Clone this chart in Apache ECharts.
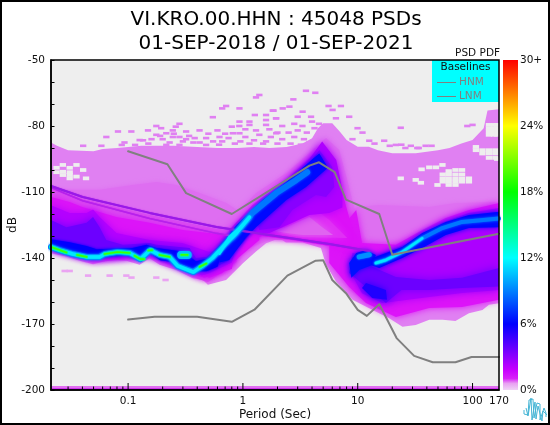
<!DOCTYPE html>
<html><head><meta charset="utf-8">
<style>html,body{margin:0;padding:0;background:#fff}#c{width:550px;height:425px}</style>
<script src="https://cdn.jsdelivr.net/npm/echarts@6/dist/echarts.min.js"></script>
</head><body><div id="c"></div>
<script>
// ---------- values: [period (s), dB] ----------
const titleLines = ['VI.KRO.00.HHN : 45048 PSDs', '01-SEP-2018 / 01-SEP-2021'];
const xMajorTicks = [0.1, 1, 10, 100, 170];
const xMinorTicks = [0.03,0.04,0.05,0.06,0.07,0.08,0.09,0.2,0.3,0.4,0.5,0.6,0.7,0.8,0.9,2,3,4,5,6,7,8,9,20,30,40,50,60,70,80,90];
const hnm = [[0.1,-91.5],[0.22,-97.4],[0.32,-110.5],[0.8,-120],[3.8,-98],[4.6,-96.5],[6.3,-101],[7.9,-113.5],[15.4,-120],[20,-138.5],[170,-129]];
const lnm = [[0.1,-168],[0.17,-166.7],[0.4,-166.7],[0.8,-169],[1.26,-163.5],[2.44,-148],[4.3,-141.2],[5,-141],[6,-150],[7.9,-156],[10,-163.6],[12,-166.3],[15.4,-161],[21.8,-176.4],[31,-184.5],[45,-187.4],[71,-187.4],[98,-185],[170,-185]];

const envelope = [[.0213,-87.5],[.024,-89],[.03,-91],[.05,-91.5],[.06,-90.5],[.08,-90],[.1,-89.5],[.13,-89],[.16,-89],[.25,-89],[.4,-89.5],[.6,-90],[.9,-90],[1.25,-89.5],[1.7,-90],[2.4,-89.5],[3.3,-88],[4,-85.6],[4.5,-81],[5,-78.8],[6,-78.8],[7,-82.6],[8,-86.4],[10,-89.4],[12.5,-89.4],[15,-91],[20,-92.4],[32,-92.4],[40,-91.7],[50,-91],[63,-90],[80,-88],[100,-86.4],[125,-81],[135,-73],[170,-72.4],
 [170,-160.6],[139,-161.3],[122,-163.6],[93,-165.1],[71,-168.6],[55,-168.1],[42,-168.1],[32,-170.4],[24.5,-171.2],[18.8,-167.4],[12.6,-162.8],[9,-159],[6.46,-150.7],[5.29,-143],[4.78,-135.5],[3.31,-133],[2.37,-133],[2.08,-131],[1.59,-133.3],[1.3,-137],[1,-142.4],[.817,-146.9],[.714,-150],[.495,-152.2],[.448,-150],[.366,-149.2],[.263,-145.4],[.188,-143.1],[.154,-140.1],[.126,-143.1],[.0965,-141.3],[.069,-140.9],[.0495,-142.8],[.0379,-141.3],[.029,-139.3],[.0213,-137.8]];
const cloudLeft = [[.0213,-109],[.0565,-109],[.109,-106.8],[.177,-105.5],[.264,-106.8],[.419,-110.5],[.719,-115],[.933,-119],[.84,-128],[.0213,-111]];
const cloudRight = [[9.9,-116.8],[15.4,-115.9],[41.9,-116.8],[72,-115],[170,-114.5],[170,-157.3],[41.9,-161.4],[23,-164.5],[15.4,-163.6],[8.43,-154.5],[6,-136.4],[7.6,-120.5]];
const humpPale = [[.625,-126.4],[.88,-119.5],[1.3,-110.5],[2.39,-101.4],[3.79,-92.3],[5.3,-85.5],[6.9,-90.9],[8.1,-104.5],[10.3,-126],[11.9,-131.8],[7.6,-136.4],[4.8,-131.8],[1.7,-131.8],[1.03,-136.4],[.81,-141.8]];
const lobeA = [[.0213,-108.5],[.0402,-113.2],[.154,-120.5],[.588,-126.8],[.933,-128.2],[.88,-141.8],[.495,-151],[.366,-148.5],[.263,-144.5],[.154,-139.5],[.0965,-140.5],[.0495,-142],[.0213,-137]];
const lobeB = [[.0213,-112.3],[.031,-114.5],[.04,-116.8],[.079,-121.4],[.154,-124],[.298,-127.3],[.72,-129.5],[.88,-135],[.8,-145],[.46,-149],[.36,-147],[.26,-144],[.154,-139],[.0965,-140],[.0495,-141],[.0213,-136]];
const lobeC = [[.0213,-116],[.031,-119.5],[.0435,-119.5],[.0495,-118],[.0565,-121.4],[.079,-128.6],[.154,-131.8],[.298,-133.2],[.512,-137.3],[.72,-135],[.933,-130.5],[.8,-142],[.5,-147],[.44,-148],[.36,-146],[.26,-143],[.154,-138.5],[.0965,-139.5],[.0495,-140.5],[.0213,-135.5]];
const lobeD = [[.0213,-122.7],[.029,-126],[.0435,-124],[.0495,-121.4],[.0565,-126],[.0645,-131.8],[.09,-134],[.154,-133.2],[.177,-134],[.343,-135.5],[.39,-140],[.48,-139.5],[.66,-133.2],[.88,-127.3],[.75,-141],[.5,-146],[.37,-145.5],[.26,-142.5],[.154,-138],[.0965,-139],[.0495,-140],[.0213,-135]];
const lobeE = [[.0213,-131.5],[.031,-132.8],[.0435,-134.5],[.0533,-136],[.069,-135.8],[.109,-135.5],[.145,-134],[.177,-135.5],[.3,-137],[.39,-141.5],[.512,-140],[.72,-131.5],[.6,-144],[.48,-146],[.38,-146],[.26,-142],[.19,-141],[.154,-137.5],[.126,-141],[.0965,-138.5],[.0495,-140],[.0213,-134.5]];
const fanMagenta = [[.45,-142],[.72,-131],[.9,-128],[1.39,-127],[1.39,-131.8],[.93,-139.5],[.66,-146.8],[.51,-149],[.43,-147]];
const fanViolet = [[.45,-143],[.6,-137],[.9,-127],[1.2,-125],[1.2,-128],[1,-133],[.7,-141.5],[.5,-146]];
const humpMagenta = [[.76,-127.3],[1.21,-115.9],[2.39,-104.5],[3.79,-94.5],[4.9,-89.5],[6.25,-96.8],[7.35,-110.5],[8.9,-126],[10.3,-133.2],[11.9,-137.7],[7.6,-138],[5.65,-134.5],[3.1,-132.3],[1.48,-130],[1.14,-131.8],[.84,-137.3]];
const humpMid = [[1.39,-127.3],[2.39,-121.4],[3.79,-115.9],[5.65,-122.7],[8.1,-130.9],[3.3,-130.5]];
const humpLight = [[1.7,-127.3],[2.39,-126],[3.79,-121.4],[4.9,-126],[6.1,-129.5],[3.3,-129.5],[2.39,-128.6]];
const humpPurple = [[4.9,-87],[6.5,-95.5],[7.35,-109],[7.35,-117],[5.65,-119.5],[3.79,-120.5],[2.7,-124],[1.7,-128.6],[1.21,-128.6],[1.3,-122],[2.39,-106],[3.79,-95]];
const humpViolet = [[4.63,-90.9],[6,-98.6],[6.25,-107.7],[5.3,-112.3],[4.33,-111.4],[2.7,-118.2],[2.08,-126],[1.39,-127.3],[1.3,-122],[2.39,-108],[3.79,-97]];
const risingBlue = [[.625,-135],[.88,-125],[1.48,-113.6],[2.39,-105.5],[4.05,-95],[4.63,-92.5],[5.5,-99],[3.55,-107.7],[2.39,-113.6],[1.3,-126],[1.07,-130.5],[.76,-140.9],[.625,-142]];
const rightMagenta = [[9.7,-118.2],[10.9,-133.2],[21.5,-134],[36.6,-127.3],[58.5,-121.8],[93.2,-118.2],[170,-115],[170,-159],[81,-162.3],[41.9,-162.7],[21.5,-166.8],[11.8,-160.5],[8.43,-153.2],[5.65,-142.3],[5.65,-133]];
const rightPurple = [[13.4,-139.5],[29.7,-132.7],[54.5,-124],[93,-119.5],[170,-117.3],[170,-154.5],[81,-155.9],[41.9,-157.7],[26.3,-159.1],[16.4,-160.5],[10.9,-156],[8.43,-145.5],[9,-137.7]];
const rightViolet = [[13.4,-144],[21.5,-148.6],[41.9,-150],[81,-149],[170,-144.5],[170,-153],[81,-153.6],[41.9,-154.5],[24,-154.5],[17.6,-160.5],[11.8,-153.2],[8.43,-146.8],[9,-139.5]];
const rightPatch = [[11.8,-151.4],[17.6,-154.5],[18,-159],[13.4,-158.2],[10.9,-153.6]];
const rightBlob = [[8.43,-142.3],[9.7,-137.7],[11.8,-136.4],[14.4,-138.6],[13.4,-143.2],[10.3,-145.5],[8.8,-149]];
const rightBlue = [[13.4,-140],[24.4,-135],[36.5,-128.6],[58.5,-123.6],[93,-120.5],[170,-119],[170,-126],[93,-126.4],[58.5,-129.5],[36.5,-135.5],[24.4,-140],[15.4,-144.5],[13,-143.2]];
const bottomBandOuter = [[.0213,-198.2],[170,-198.2],[170,-200],[.0213,-200]];
const bottomBandInner = [[.0213,-199.2],[170,-199.2],[170,-200],[.0213,-200]];

const diagonalUpper = [[.0213,-107.3],[.0402,-112.3],[.154,-119.5],[.588,-125.9],[1.48,-129.1],[5.65,-133.6],[12.6,-136.8]];
const diagonalLower = [[.0213,-108],[.0402,-114],[.154,-122],[.588,-128.8],[.8,-130]];
const ridgeLeft = [[.0213,-135],[.0253,-136.4],[.033,-138.2],[.0435,-139.5],[.0565,-139.5],[.0625,-138.2],[.081,-137.3],[.103,-137.7],[.128,-140.5],[.156,-136.4],[.188,-138.6],[.23,-139.5],[.27,-143.6],[.37,-146.4],[.445,-143.6],[.543,-140],[.72,-133.2],[.88,-128.6],[1.14,-121.4]];
const ridgeRising = [[.81,-130.5],[1.21,-119.5],[1.95,-110.5],[2.92,-104.5],[3.63,-101]];
const ridgeRisingCyan = [[.625,-138],[.76,-130.5],[.93,-126.4],[1.1,-122.5]];
const ridgeRight = [[14.4,-142.3],[17.6,-140.9],[24.4,-137.3],[36.5,-131],[54.5,-126.4],[81,-123.6],[170,-122]];
const ridgeRightCyan = [[14.4,-142.3],[17.6,-140.9],[24.4,-137.3],[36.5,-131]];
const ridgeBlob = [[10.3,-139.5],[12.6,-138.5]];
const leftBlob = [[.29,-138.6],[.33,-138.6]];
const greenSegments = [
 [[.0213,-135],[.0253,-136.4],[.029,-137.5]],
 [[.036,-138.6],[.0435,-139.5]],
 [[.0625,-138.2],[.081,-137.3],[.103,-137.7]],
 [[.114,-139],[.128,-140.5],[.138,-140.5]],
 [[.15,-136.6],[.162,-136.4]],
 [[.188,-138.6],[.23,-139.5]],
 [[.29,-138.6],[.33,-138.6]],
 [[.42,-144],[.48,-142.5]]
];
const speckles = [[1.39,-65.9],[1.3,-67],[.714,-70.9],[.66,-72],[.933,-72],[1.27,-75],[1.59,-75],[1.85,-73],[.547,-76],[.28,-79],[.26,-80.3],[.176,-80],[.933,-78],[1.14,-78],[1.59,-77.3],[1.95,-76.5],
[.0816,-82.5],[.1067,-82.5],[.0646,-85],[.149,-82],[.194,-81],[.215,-83.3],[.245,-82],[.32,-82.5],[.419,-82],[.6,-82],[.8,-80.3],[.93,-80],[1.14,-79.5],[1.59,-79.5],
[.0406,-89],[.0585,-89],[.093,-87.5],[.088,-88.6],[.126,-86.4],[.176,-84],[.245,-85],[.32,-86],[.478,-85.5],[.625,-85],[.817,-83.3],[.933,-83.3],[1.39,-84],[1.95,-83.3],
[.115,-88.6],[.15,-88],[.215,-88.6],[.28,-88.6],[.37,-87.5],[.478,-88.6],[.66,-87],[.85,-88],[1.14,-88],[1.59,-87],
[.135,-86.5],[.16,-86],[.2,-86],[.28,-85],[.38,-85.5],[.55,-87],[.75,-85.5],[1.05,-85],[1.25,-86.5],[1.75,-85],[.3,-87],[.42,-87.5],[.95,-87],
[.19,-84.5],[.23,-87.5],[.34,-84.5],[.5,-83.5],[.7,-83.5],[1.05,-81.5],[1.3,-82],[1.7,-81.5],[.25,-83.5],[.62,-88.5],[1.5,-88],
[3.54,-64],[4.27,-64.9],[2.75,-67.9],[2.54,-71.2],[2.22,-72],[1.82,-73],[3.31,-73.5],[5.57,-70.9],[7.14,-70.9],[6.04,-72.7],[8.43,-75.8],[3.92,-75.8],[3,-75.8],[6.46,-76.5],[1.94,-76.5],[9.96,-81],[11,-83],[23.7,-80.8],[12.6,-86.7],[17,-86.7],
[2.2,-80],[2.8,-79],[3.3,-80],[4,-78],[4.6,-79],[2,-83],[2.5,-83],[3,-82],[3.6,-83],[4.2,-81],[2.2,-86],[2.8,-85],[3.4,-86],[2,-88],[2.6,-88],[3.2,-88.5],[3.8,-87.5],[9,-86],[14,-88],[19,-89],[24,-88.5],[29,-89],[34,-90],[39,-89],[44,-89],[21.5,-88.6],[26,-90],[33,-90],[90,-80],[100,-79.5]];
const lowSpeckles = [[.028,-145.9],[.031,-145.9],[.0448,-148],[.069,-148],[.0965,-148],[.107,-148.9],[.176,-148.9],[.212,-150]];
const holes = [[.0238,-99],[.027,-97.7],[.031,-99],[.0355,-97.7],[.0238,-101],[.027,-100.8],[.031,-101],[.027,-102.3],[.031,-102.3],[.031,-103.8],[.0355,-103],[.0406,-100],[.043,-103.8],
[42,-98.8],[48,-98.8],[54.7,-97.7],[36,-99.7],[23.7,-103.8],[32,-104.5],[35.5,-105.8],[49.5,-106.8],
[55,-102],[62,-102],[71,-102],[81,-102],[62,-100.5],[71,-100],[55,-103.8],[62,-103.8],[71,-103.8],[81,-103.8],[93,-103.8],[55,-105.3],[62,-105.3],[71,-105.3],[81,-105.3],[93,-105.3],[62,-106.8],[71,-106.8],[81,-100],
[139,-79.5],[154,-79.5],[164,-79.5],[139,-81],[154,-81],[164,-81],[139,-82.5],[154,-82.5],[164,-82.5],[139,-84],[154,-84],[164,-84],
[107,-91],[122,-91],[139,-91],[158,-91],[122,-92.5],[139,-92.5],[158,-92.5],[139,-94.5],[158,-94.5],[164,-95],[107,-89.5]];

// ---------- presentation ----------
const PALE='#e080f2', BG='#eeeeee';
const bands = [
 [envelope,PALE,0],[cloudLeft,'#de6ef1',5],[cloudRight,'#de70f1',5],[humpPale,'#dd6af1',6],
 [lobeA,'#d94cf0',5],[rightMagenta,'#dc14f8',7],[humpMagenta,'#dc10f8',6],[humpMid,'#e030f5',7],[humpLight,'#e064f0',7],
 [lobeB,'#dc14f8',7],[fanMagenta,'#dc10f8',5],[lobeC,'#b400ff',9],[humpPurple,'#b000ff',9],[rightPurple,'#ac00ff',9],[humpViolet,'#8800ff',9],
 [rightViolet,'#6c00ff',10],[lobeD,'#6c00ff',9],[fanViolet,'#6000ff',4],[lobeE,'#0000ff',3],[risingBlue,'#0008ff',4],[rightPatch,'#2000ff',7],
 [rightBlob,'#0010ff',5],[rightBlue,'#0008ff',5],[bottomBandOuter,'#e070f0',0],[bottomBandInner,'#cc20f0',0]
];
function bandSeries(pts,color,blur){
 return {type:'custom',coordinateSystem:'cartesian2d',clip:true,silent:true,data:pts,encode:{x:0,y:1},
  renderItem:(p,api)=>{ if(p.dataIndex!==0) return null;
   return {type:'polygon',shape:{points:pts.map(d=>api.coord(d))},style:{fill:color,shadowBlur:blur,shadowColor:color}}; }};
}
function cellSeries(cells,color,halfDb){
 const half=Math.pow(10,0.0275);
 return {type:'custom',coordinateSystem:'cartesian2d',clip:true,silent:true,data:cells,encode:{x:0,y:1},
  renderItem:(p,api)=>{ const a=api.coord([api.value(0)/half,api.value(1)+halfDb]), b=api.coord([api.value(0)*half,api.value(1)-halfDb]);
   return {type:'rect',shape:{x:a[0],y:a[1],width:b[0]-a[0],height:b[1]-a[1]},style:{fill:color}}; }};
}
function tickSeries(values,len){
 return {type:'custom',coordinateSystem:'cartesian2d',clip:false,silent:true,z:9,data:values.map(v=>[v,-200]),encode:{x:0,y:1},
  renderItem:(p,api)=>{ const c=api.coord([api.value(0),-200]);
   return {type:'line',shape:{x1:c[0],y1:c[1],x2:c[0],y2:c[1]-len},style:{stroke:'#000',lineWidth:1}}; }};
}
function lineSeries(pts,color,width,blur,name){
 return {type:'line',name:name,data:pts,showSymbol:false,symbol:'none',silent:true,
  lineStyle:{color:color,width:width,cap:'round',join:'round',shadowBlur:blur||0,shadowColor:color}};
}
const series=[];
series.push(cellSeries(speckles,PALE,.6));
bands.forEach(b=>series.push(bandSeries(b[0],b[1],b[2])));
series.push(cellSeries(holes,BG,.85));
series.push(cellSeries(lowSpeckles,'#eaa4f2',.6));
series.push(lineSeries(diagonalLower,'#b820ec',1.5,1));
series.push(lineSeries(diagonalUpper,'#9a18e8',2,1));
[ridgeLeft,ridgeRising,ridgeRight].forEach((r,i)=>series.push(lineSeries(r,'#0078ff',i===2?4:6,3)));
series.push(lineSeries(ridgeBlob,'#0090ff',5,2));
series.push(lineSeries(leftBlob,'#00c0ff',8,2));
[ridgeLeft,ridgeRisingCyan,ridgeRightCyan].forEach((r,i)=>series.push(lineSeries(r,'#00e8ff',i===0?3.5:2.5,2)));
greenSegments.forEach(s=>series.push(lineSeries(s,'#00ff90',3,1)));
greenSegments.forEach(s=>series.push(lineSeries(s,'#40ff00',1.6,0)));
series.push(lineSeries(hnm,'#808080',2,0,'HNM'));
series.push(lineSeries(lnm,'#808080',2,0,'LNM'));
series.push(tickSeries(xMinorTicks,3.5));
series.push(tickSeries(xMajorTicks.slice(0,4),7));
series.push({type:'bar',xAxisIndex:1,yAxisIndex:1,data:[30],barWidth:'100%',silent:true,
 itemStyle:{color:new echarts.graphic.LinearGradient(0,1,0,0,[
  {offset:0,color:'#f0d4f6'},{offset:.02,color:'#e8a0f2'},{offset:.035,color:'#d820f8'},{offset:.06,color:'#c800ff'},
  {offset:.2,color:'#0000ff'},{offset:.4,color:'#00ffff'},{offset:.6,color:'#00ff00'},{offset:.8,color:'#ffff00'},{offset:1,color:'#ff0000'}])}});

const FONT='"DejaVu Sans"';
const base={fontFamily:FONT,color:'#111',fontSize:10.5};
const logoStroke={stroke:'#45b5d5',lineWidth:1,fill:'none'};
const chart=echarts.init(document.getElementById('c'),null,{renderer:'canvas'});
chart.setOption({
 animation:false,backgroundColor:'#fff',textStyle:{fontFamily:FONT},
 title:{text:titleLines.join('\n'),left:271,textAlign:'center',top:3,textStyle:{fontFamily:FONT,fontWeight:'normal',fontSize:20,lineHeight:24,color:'#000'}},
 legend:{data:['HNM','LNM'],orient:'vertical',left:437,top:77,icon:'rect',itemWidth:19,itemHeight:1,itemGap:3,padding:0,selectedMode:false,
  itemStyle:{color:'#808080'},textStyle:{fontFamily:FONT,fontSize:10.5,color:'#808080',padding:[0,0,0,-2]}},
 grid:[{left:51,top:60,width:448,height:330,show:true,backgroundColor:BG,borderWidth:0,outerBoundsMode:'none'},
       {left:503,top:60,width:15,height:330,outerBoundsMode:'none'}],
 xAxis:[
  {type:'log',gridIndex:0,min:.0213,max:170,z:10,axisLine:{show:true,onZero:false,lineStyle:{color:'#000',width:1.5}},
   axisTick:{show:false},minorTick:{show:false},splitLine:{show:false},
   axisLabel:{...base,customValues:xMajorTicks,margin:6,formatter:v=>String(+(+v).toPrecision(3)),showMinLabel:true,showMaxLabel:true,hideOverlap:false},
   name:'Period (Sec)',nameLocation:'middle',nameGap:19,nameMoveOverlap:false,nameTextStyle:{...base,fontSize:12}},
  {type:'category',gridIndex:1,data:['PDF'],show:false}
 ],
 yAxis:[
  {type:'value',gridIndex:0,min:-200,max:-50,interval:30,z:10,axisLine:{show:true,onZero:false,lineStyle:{color:'#000',width:1.5}},
   axisTick:{show:true,inside:true,length:3.5,lineStyle:{color:'#000'}},minorTick:{show:true,splitNumber:3,length:3.5,lineStyle:{color:'#000'}},splitLine:{show:false},
   axisLabel:{...base,margin:6},name:'dB',nameLocation:'middle',nameGap:32,nameMoveOverlap:false,nameTextStyle:{...base,fontSize:12}},
  {type:'value',gridIndex:1,min:0,max:30,interval:6,position:'right',axisLine:{show:false},axisTick:{show:false},splitLine:{show:false},
   axisLabel:{...base,margin:2,formatter:v=>v===30?'30+':v+'%',alignMinLabel:'bottom',alignMaxLabel:'top'}}
 ],
 graphic:[
  {type:'rect',z:1,silent:true,shape:{x:432,y:60,width:67,height:42},style:{fill:'#00ffff'},id:'legendBg'},
  {type:'text',z:60,silent:true,x:465.5,y:62,style:{text:'Baselines',font:'10.5px '+FONT,fill:'#111',textAlign:'center'}},
  {type:'text',z:60,silent:true,x:500,y:48,style:{text:'PSD PDF',font:'10.5px '+FONT,fill:'#111',textAlign:'right'}},
  {type:'rect',z:60,silent:true,shape:{x:51,y:60,width:448,height:330},style:{fill:'none',stroke:'#000',lineWidth:1.5}},
  {type:'rect',z:70,silent:true,shape:{x:0,y:0,width:550,height:425},style:{fill:'none',stroke:'#000',lineWidth:4}},
  {type:'polyline',z:60,silent:true,shape:{points:[[524,410],[524,414],[528,415],[529,400],[533,399],[534,418],[537,403],[540,404],[540,420],[544,408],[546,413],[546,417]]},style:logoStroke},
  {type:'polyline',z:60,silent:true,shape:{points:[[526,408],[528,416],[531,398],[532,420],[535,402],[536,419],[538,406],[542,421],[543,411],[547,415]]},style:logoStroke}
 ],
 series:series
});
</script></body></html>
